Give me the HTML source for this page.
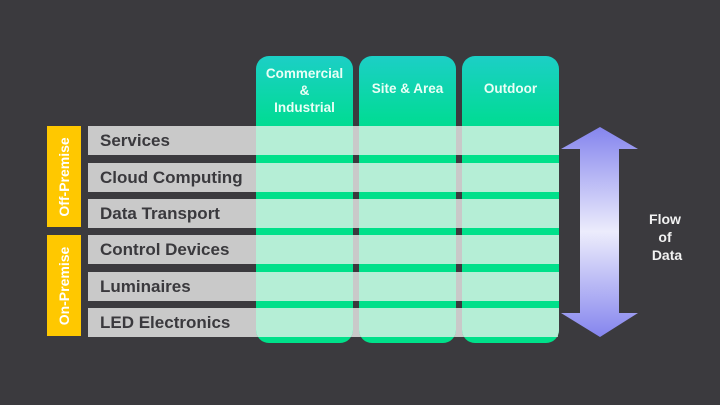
<!DOCTYPE html>
<html><head><style>
body{margin:0;width:720px;height:405px;background:#3b3a3e;position:relative;overflow:hidden;font-family:"Liberation Sans",sans-serif}
div{position:absolute;box-sizing:border-box}
.bar{left:88px;width:470px;height:29px;background:#c9c9c9;color:#3a393d;font-weight:bold;font-size:17px;line-height:29px;padding-left:12px}
.col{top:56px;height:287px;width:97px;border-radius:13px;overflow:hidden;background:linear-gradient(#1ccfc6,#00dc92 70px,#00e08a 70px)}
.hd{left:0;top:-3px;width:97px;height:70px;color:#eafff6;font-weight:bold;font-size:13.5px;text-align:center;display:flex;align-items:center;justify-content:center;line-height:17px}
.m{left:0;width:97px;height:29px;background:#b5eed6}
.lab{left:47px;width:34px;background:#ffc800;color:#fff;font-weight:bold;font-size:14px}
.lab span{position:absolute;left:50%;top:50%;transform:translate(-50%,-50%) rotate(-90deg);white-space:nowrap}
</style></head><body>
<div class="bar" style="top:126px">Services</div>
<div class="bar" style="top:163px">Cloud Computing</div>
<div class="bar" style="top:199px">Data Transport</div>
<div class="bar" style="top:235px">Control Devices</div>
<div class="bar" style="top:272px">Luminaires</div>
<div class="bar" style="top:308px">LED Electronics</div>

<div class="lab" style="top:126px;height:101px"><span>Off-Premise</span></div>
<div class="lab" style="top:235px;height:101px"><span>On-Premise</span></div>

<div class="col" style="left:256px"><div class="hd" style="top:-1px">Commercial<br>&amp;<br>Industrial</div>
<div class="m" style="top:70px"></div><div class="m" style="top:107px"></div><div class="m" style="top:143px"></div><div class="m" style="top:179px"></div><div class="m" style="top:216px"></div><div class="m" style="top:252px;height:29px"></div></div>
<div class="col" style="left:359px"><div class="hd">Site &amp; Area</div>
<div class="m" style="top:70px"></div><div class="m" style="top:107px"></div><div class="m" style="top:143px"></div><div class="m" style="top:179px"></div><div class="m" style="top:216px"></div><div class="m" style="top:252px;height:29px"></div></div>
<div class="col" style="left:462px"><div class="hd">Outdoor</div>
<div class="m" style="top:70px"></div><div class="m" style="top:107px"></div><div class="m" style="top:143px"></div><div class="m" style="top:179px"></div><div class="m" style="top:216px"></div><div class="m" style="top:252px;height:29px"></div></div>

<svg style="position:absolute;left:0;top:0" width="720" height="405">
<defs><linearGradient id="g" x1="0" y1="0" x2="0" y2="1">
<stop offset="0" stop-color="#8585ee"/><stop offset="0.5" stop-color="#ececfc"/><stop offset="1" stop-color="#8585ee"/></linearGradient></defs>
<polygon points="600,127 638,149 619,149 619,313 638,313 600,337 561,313 580,313 580,149 561,149" fill="url(#g)"/>
<g fill="#f2f2f2" font-family="Liberation Sans, sans-serif" font-weight="bold" font-size="14" text-anchor="middle">
<text x="665" y="224">Flow</text><text x="665" y="242">of</text><text x="667" y="260">Data</text></g>
</svg>
</body></html>
